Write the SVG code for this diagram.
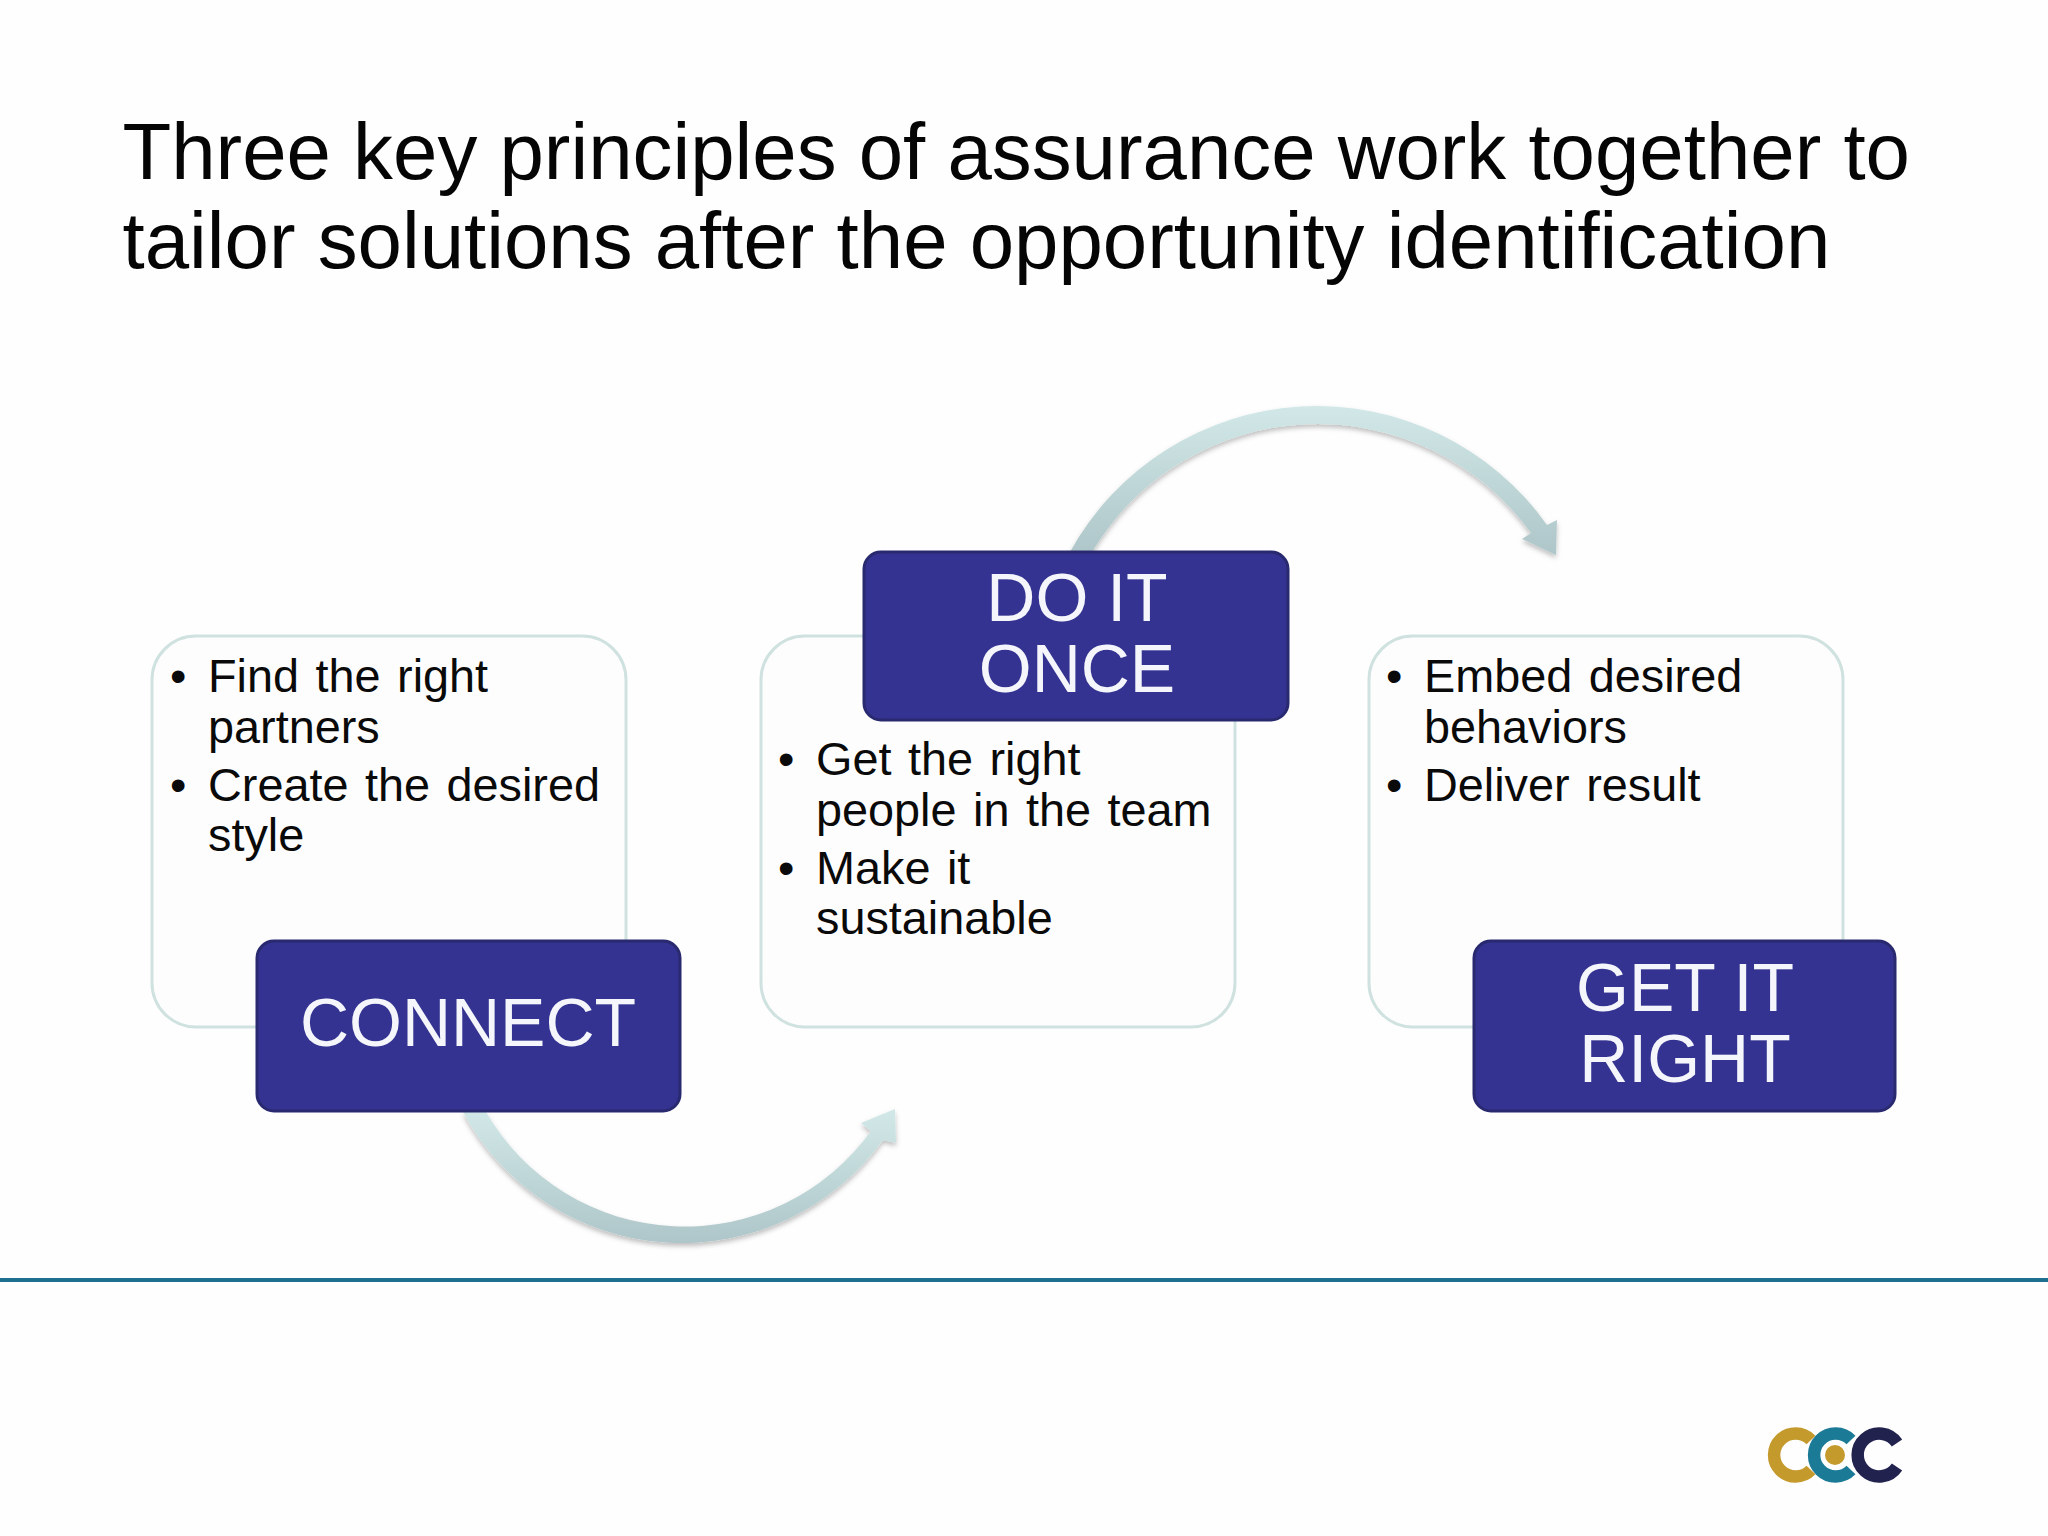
<svg xmlns="http://www.w3.org/2000/svg" width="2048" height="1536" viewBox="0 0 2048 1536">
<style>
.title{font:79.8px "Liberation Sans",Arial,sans-serif;fill:#050505}
.body{font:46.8px "Liberation Sans",Arial,sans-serif;fill:#0a0a0a;word-spacing:3.5px}
.label{font:68px "Liberation Sans",Arial,sans-serif;fill:#f4f6fb;text-anchor:middle}
.card{fill:#fefdfe;stroke:#cfe2df;stroke-width:3}
.tag{fill:#343391;stroke:#29296f;stroke-width:3}
.arrow{fill:url(#arrowFill);filter:url(#soft)}
.logo{fill:none;stroke-width:12.5}
</style>
<defs>
<linearGradient id="arrowFill" x1="0" y1="0" x2="0" y2="1">
<stop offset="0" stop-color="#d2e8e8"/>
<stop offset="1" stop-color="#aec6c9"/>
</linearGradient>
<filter id="soft" x="-10%" y="-10%" width="120%" height="125%">
<feDropShadow dx="0" dy="3" stdDeviation="2.500" flood-color="#000000" flood-opacity="0.25"/>
</filter>
</defs>
<rect width="2048" height="1536" fill="#fefefe"/>
<g id="title">
<text class="title" x="122.500" y="179">Three key principles of assurance work together to</text>
<text class="title" x="122.500" y="268">tailor solutions after the opportunity identification</text>
</g>
<rect id="rule" x="0" y="1278" width="2048" height="4" fill="#1f6f8f"/>
<g id="connectors">
<path class="arrow" d="M463 1112 A248 248 0 0 0 883 1140 L896 1143 L895 1109 L861 1123 L871 1131 A229.500 229.500 0 0 1 486 1112 Z"/>
<path class="arrow" d="M1070 552 A282 282 0 0 1 1547 525 L1557 520 L1556 555 L1522 539 L1531 533 A263 263 0 0 0 1092 552 Z"/>
</g>
<g id="card-connect">
<rect class="card" x="152" y="636" width="474" height="391" rx="44"/>
<text class="body" x="170" y="692">•</text>
<text class="body" x="208" y="692">Find the right</text>
<text class="body" x="208" y="743">partners</text>
<text class="body" x="170" y="801">•</text>
<text class="body" x="208" y="801">Create the desired</text>
<text class="body" x="208" y="851">style</text>
</g>
<g id="card-do-it-once">
<rect class="card" x="761" y="636" width="474" height="391" rx="44"/>
<text class="body" x="778" y="775">•</text>
<text class="body" x="816" y="775">Get the right</text>
<text class="body" x="816" y="826">people in the team</text>
<text class="body" x="778" y="884">•</text>
<text class="body" x="816" y="884">Make it</text>
<text class="body" x="816" y="934">sustainable</text>
</g>
<g id="card-get-it-right">
<rect class="card" x="1369" y="636" width="474" height="391" rx="44"/>
<text class="body" x="1386" y="692">•</text>
<text class="body" x="1424" y="692">Embed desired</text>
<text class="body" x="1424" y="743">behaviors</text>
<text class="body" x="1386" y="801">•</text>
<text class="body" x="1424" y="801">Deliver result</text>
</g>
<g id="node-connect">
<rect class="tag" x="257" y="941" width="423" height="170" rx="17"/>
<text class="label" x="468" y="1046">CONNECT</text>
</g>
<g id="node-do-it-once">
<rect class="tag" x="864" y="552" width="424" height="168" rx="17"/>
<text class="label" x="1077" y="621">DO IT</text>
<text class="label" x="1077" y="692">ONCE</text>
</g>
<g id="node-get-it-right">
<rect class="tag" x="1474" y="941" width="421" height="170" rx="17"/>
<text class="label" x="1685" y="1011">GET IT</text>
<text class="label" x="1685" y="1082">RIGHT</text>
</g>
<g id="logo">
<path class="logo" stroke="#c49a2c" d="M1811 1440 A21.500 21.500 0 1 0 1811 1470"/>
<path class="logo" stroke="#1b7a96" d="M1851 1440 A21.500 21.500 0 1 0 1851 1470"/>
<circle cx="1835" cy="1455" r="10" fill="#c49a2c"/>
<path class="logo" stroke="#22224f" d="M1897 1443 A21.500 21.500 0 1 0 1897 1467"/>
</g>
</svg>
